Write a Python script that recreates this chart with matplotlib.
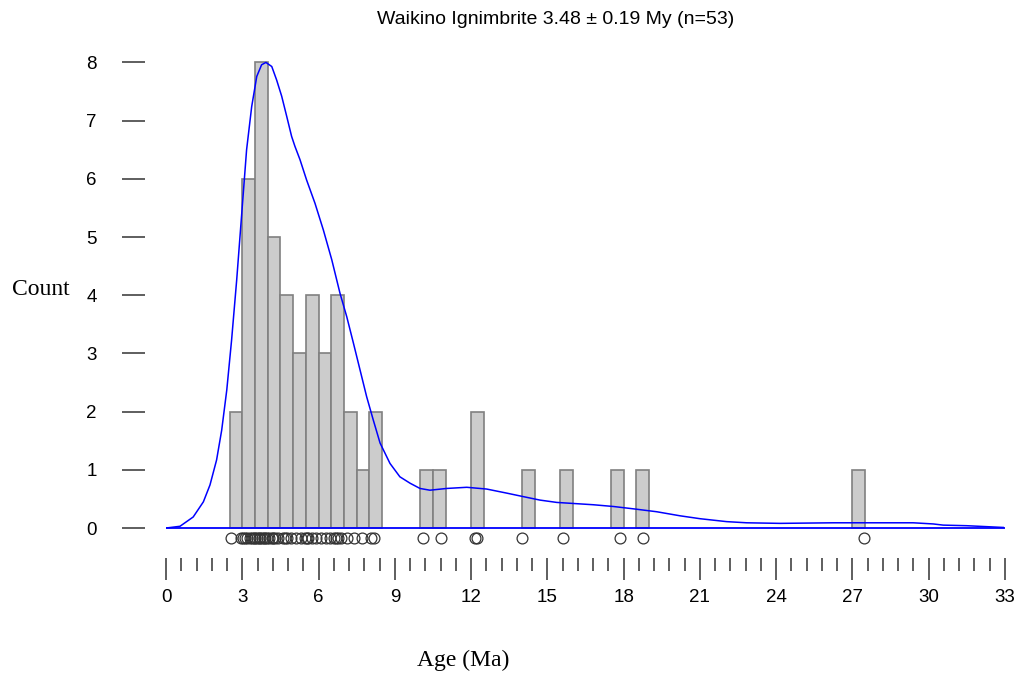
import numpy as np
import matplotlib
matplotlib.use("Agg")
import matplotlib.pyplot as plt
from matplotlib.ticker import MultipleLocator

# ages of the single grains (Ma)
ages = [2.55, 2.95,
        3.02, 3.10, 3.20, 3.30, 3.40, 3.45,
        3.52, 3.58, 3.65, 3.70, 3.78, 3.85, 3.90, 3.97,
        4.05, 4.15, 4.20, 4.30, 4.42,
        4.60, 4.70, 4.75, 4.90,
        5.10, 5.30, 5.45,
        5.55, 5.60, 5.75, 5.90,
        6.10, 6.30, 6.45,
        6.60, 6.70, 6.75, 6.90,
        7.10, 7.40,
        7.70,
        8.05, 8.20,
        10.10, 10.80, 12.15, 12.25, 14.00, 15.60, 17.85, 18.77, 27.47]

# density curve (scaled to the count axis)
kde_x = [0.0, 0.55, 1.07, 1.47, 1.73, 1.99, 2.19, 2.39, 2.58, 2.78, 2.98,
         3.17, 3.37, 3.57, 3.76, 3.93, 4.16, 4.35, 4.55, 4.75, 4.94, 5.07,
         5.27, 5.53, 5.86, 6.19, 6.52, 6.84, 7.11, 7.37, 7.63, 7.89, 8.15,
         8.42, 8.81, 9.20, 9.60, 9.99, 10.38, 11.04, 11.83, 12.61, 13.40,
         14.05, 14.71, 15.37, 16.81, 17.60, 18.38, 19.30, 20.22, 21.01,
         22.05, 22.84, 24.15, 26.25, 29.39, 30.18, 30.57, 31.49, 32.93]
kde_y = [0.0, 0.03, 0.19, 0.45, 0.74, 1.17, 1.68, 2.37, 3.23, 4.26, 5.41,
         6.50, 7.24, 7.76, 7.96, 8.00, 7.93, 7.70, 7.42, 7.07, 6.73, 6.56,
         6.33, 5.98, 5.58, 5.12, 4.61, 4.04, 3.63, 3.18, 2.72, 2.26, 1.86,
         1.46, 1.11, 0.88, 0.77, 0.68, 0.65, 0.68, 0.70, 0.67, 0.60,
         0.54, 0.48, 0.44, 0.40, 0.37, 0.33, 0.28, 0.21, 0.16,
         0.11, 0.09, 0.08, 0.09, 0.09, 0.07, 0.05, 0.04, 0.01]

bin_width = 0.5
x_max = 33
title = "Waikino Ignimbrite 3.48 \u00b1 0.19 My (n=53)"

W, H = 1029, 675
fig = plt.figure(figsize=(W / 100, H / 100), dpi=100)
# pixel frame of the plot region
px_left, px_right = 166, 1005
px_top, px_bot = 50.8, 548.4
ax = fig.add_axes([px_left / W, 1 - px_bot / H,
                   (px_right - px_left) / W, (px_bot - px_top) / H])

bins = np.arange(0, x_max + bin_width, bin_width)
counts, edges = np.histogram(ages, bins=bins)
keep = counts > 0
ax.bar(edges[:-1][keep], counts[keep], width=bin_width, align="edge",
       color="#cccccc", edgecolor="#808080", linewidth=1.2, zorder=2)

ax.plot(kde_x, kde_y, color="#0000ff", lw=1.1, zorder=3,
        solid_joinstyle="round")
ax.plot([0, x_max], [0, 0], color="#0000ff", lw=1.3, zorder=4)

ax.plot(ages, [-0.17] * len(ages), "o", mfc="none", mec="#333333",
        ms=7.8, mew=0.9, zorder=3, clip_on=False)

ax.set_xlim(0, x_max)
ax.set_ylim(-0.35, 8.2)

for s in ax.spines.values():
    s.set_visible(False)
ax.spines["bottom"].set_position(("outward", 6.9))
ax.spines["left"].set_position(("outward", 15.1))

ax.xaxis.set_major_locator(MultipleLocator(3))
ax.xaxis.set_minor_locator(MultipleLocator(0.6))
ax.set_yticks(range(0, 9))
ax.tick_params(axis="x", which="major", direction="out", length=16, width=1.1,
               color="#333333", pad=6, labelsize=13.5)
ax.tick_params(axis="x", which="minor", direction="out", length=9, width=1.1,
               color="#333333")
ax.tick_params(axis="y", direction="out", length=16.6, width=1.1,
               color="#333333", pad=18, labelsize=13.5)
for lab in ax.get_xticklabels() + ax.get_yticklabels():
    lab.set_family("Liberation Sans")

ax.set_xlabel("Age (Ma)", family="Liberation Serif", fontsize=17)
ax.xaxis.set_label_coords((463 - px_left) / (px_right - px_left),
                          (px_bot - 660) / (px_bot - px_top))
ax.xaxis.label.set_va("center")
ax.set_ylabel("Count", family="Liberation Serif", fontsize=17, rotation=0,
              ha="center", va="center")
ax.yaxis.set_label_coords((41 - px_left) / (px_right - px_left),
                          (px_bot - 290) / (px_bot - px_top))

ax.set_title(title, family="Liberation Sans", fontsize=14, pad=0,
             x=(556 - px_left) / (px_right - px_left),
             y=(px_bot - 24) / (px_bot - px_top), va="baseline")

fig.savefig("out.png", dpi=100)
